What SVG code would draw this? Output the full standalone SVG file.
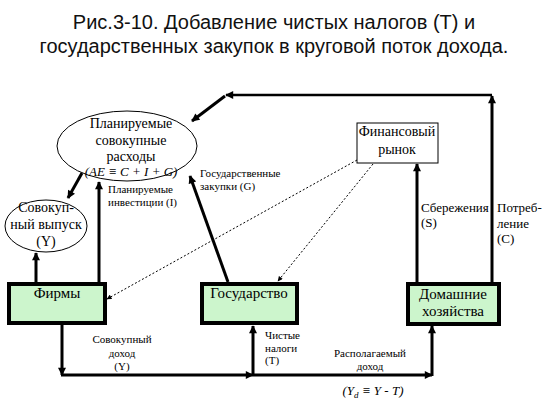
<svg xmlns="http://www.w3.org/2000/svg" width="548" height="411" viewBox="0 0 548 411">
<style>
.title{font-size:20px;fill:#111;text-anchor:middle}
.node{font-size:15px;fill:#000;text-anchor:middle}
.n14{font-size:14px}
.lbl{font-size:11px;fill:#000}
.lbl13{font-size:13px;fill:#000}
.it{font-style:italic}
.box{fill:#ccf5cc;stroke:#000;stroke-width:4}
.thin{fill:#fff;stroke:#000;stroke-width:1}
.c{fill:none;stroke:#000;stroke-width:3}
.c2{fill:none;stroke:#000;stroke-width:2.5}
.d{fill:none;stroke:#000;stroke-width:1;stroke-dasharray:2 2}
</style>
<defs>
<marker id="a" viewBox="0 0 10 10" refX="9" refY="5" markerWidth="9" markerHeight="8" markerUnits="userSpaceOnUse" orient="auto">
<path d="M0,0 L10,5 L0,10 Z" fill="#000"/>
</marker>
<marker id="s" viewBox="0 0 10 10" refX="9" refY="5" markerWidth="6" markerHeight="5" markerUnits="userSpaceOnUse" orient="auto">
<path d="M0,0 L10,5 L0,10 Z" fill="#000"/>
</marker>
</defs>
<rect width="548" height="411" fill="#fff"/>
<g id="title" font-family="Liberation Sans">
<text class="title" x="274" y="29">Рис.3-10. Добавление чистых налогов (Т) и</text>
<text class="title" x="274" y="53">государственных закупок в круговой поток дохода.</text>
</g>
<g id="connectors">
<path class="c" d="M492,282 V96" marker-end="url(#a)"/>
<path class="c2" d="M492,95 H226" marker-end="url(#a)"/>
<path class="c" d="M225,96 L192,121" marker-end="url(#a)"/>
<path class="c" d="M417,282 V164" marker-end="url(#a)"/>
<path class="d" d="M357,160 L107,299" marker-end="url(#s)"/>
<path class="d" d="M373,164 L278,281" marker-end="url(#s)"/>
<path class="c" d="M36,282 V253" marker-end="url(#a)"/>
<path class="c" d="M99,282 V182" marker-end="url(#a)"/>
<path class="c" d="M82,173 L68,198" marker-end="url(#a)"/>
<path class="c" d="M228,282 L190,176" marker-end="url(#a)"/>
<path class="c" d="M62,325 V375" marker-end="url(#a)"/>
<path class="c" d="M61,375 H253" marker-end="url(#a)"/>
<path class="c" d="M253,376 V326" marker-end="url(#a)"/>
<path class="c" d="M253,375 H432" marker-end="url(#a)"/>
<path class="c" d="M432,376 V326" marker-end="url(#a)"/>
</g>
<g id="labels" font-family="Liberation Serif">
<text class="lbl" x="108" y="193">Планируемые</text>
<text class="lbl" x="108" y="206">инвестиции (I)</text>
<text class="lbl" x="200" y="177">Государственные</text>
<text class="lbl" x="200" y="190">закупки  (G)</text>
<text class="lbl13" x="421" y="212">Сбережения</text>
<text class="lbl13" x="421" y="227">(S)</text>
<text class="lbl13" x="497" y="212">Потреб-</text>
<text class="lbl13" x="497" y="228">ление</text>
<text class="lbl13" x="497" y="243">(C)</text>
<text class="lbl" x="122" y="343" text-anchor="middle">Совокупный</text>
<text class="lbl" x="122" y="357" text-anchor="middle">доход</text>
<text class="lbl" x="122" y="370" text-anchor="middle">(Y)</text>
<text class="lbl" x="265" y="339">Чистые</text>
<text class="lbl" x="265" y="352">налоги</text>
<text class="lbl" x="265" y="364">(T)</text>
<text class="lbl" x="370" y="357" text-anchor="middle">Располагаемый</text>
<text class="lbl" x="370" y="370" text-anchor="middle">доход</text>
<text class="lbl13 it" x="373" y="395" text-anchor="middle">(Y<tspan font-size="9" dy="3">d</tspan><tspan dy="-3"> ≡ Y - T)</tspan></text>
</g>
<g id="node-ae" font-family="Liberation Serif">
<ellipse class="thin" cx="127" cy="146" rx="70" ry="35"/>
<text class="node n14" x="131" y="128">Планируемые</text>
<text class="node n14" x="131" y="145">совокупные</text>
<text class="node n14" x="131" y="161">расходы</text>
<text class="lbl13 it" x="131" y="176" text-anchor="middle">(AE ≡ C + I + G)</text>
</g>
<g id="node-y" font-family="Liberation Serif">
<ellipse class="thin" cx="46" cy="226" rx="41" ry="26"/>
<text class="node n14" x="46" y="212">Совокуп-</text>
<text class="node n14" x="46" y="229">ный выпуск</text>
<text class="node n14" x="46" y="246">(Y)</text>
</g>
<g id="node-firms" font-family="Liberation Serif">
<rect class="box" x="9" y="284" width="96" height="39"/>
<text class="node" x="57" y="298">Фирмы</text>
</g>
<g id="node-gov" font-family="Liberation Serif">
<rect class="box" x="202" y="284" width="95" height="39"/>
<text class="node" x="249" y="298">Государство</text>
</g>
<g id="node-hh" font-family="Liberation Serif">
<rect class="box" x="408" y="284" width="91" height="40"/>
<text class="node" x="453" y="299">Домашние</text>
<text class="node" x="453" y="316">хозяйства</text>
</g>
<g id="node-fin" font-family="Liberation Serif">
<rect class="thin" x="357" y="123" width="81" height="40"/>
<text class="node n14" x="397" y="136">Финансовый</text>
<text class="node n14" x="397" y="154">рынок</text>
</g>
</svg>
